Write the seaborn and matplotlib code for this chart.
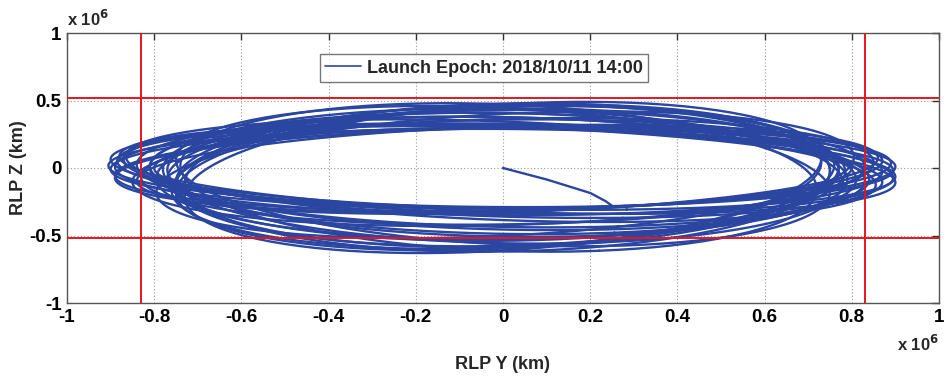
import numpy as np
import pandas as pd
import matplotlib
matplotlib.use("Agg")
import matplotlib.pyplot as plt
import seaborn as sns

# Transfer arc from launch to orbit insertion (units of 1e6 km)
transfer_y = [0.00, 0.10, 0.20, 0.235, 0.25]
transfer_z = [0.00, -0.085, -0.185, -0.245, -0.28]

# Per-revolution geometry of the libration orbit (units of 1e6 km)
loop_amp_y = [0.80, 0.85, 0.89, 0.90, 0.87, 0.82, 0.77, 0.74, 0.73, 0.76,
              0.81, 0.86, 0.89, 0.90, 0.88, 0.83, 0.78, 0.75, 0.73, 0.75,
              0.80, 0.85, 0.88, 0.90, 0.89, 0.84, 0.79, 0.76, 0.74, 0.78]
loop_amp_z = [0.30, 0.33, 0.31, 0.29, 0.35, 0.42, 0.49, 0.54, 0.56, 0.52,
              0.45, 0.38, 0.33, 0.30, 0.32, 0.39, 0.46, 0.52, 0.55, 0.53,
              0.47, 0.40, 0.34, 0.31, 0.33, 0.41, 0.48, 0.53, 0.55, 0.50]
loop_ctr_z = [0.00, -0.01, -0.01, 0.00, -0.02, -0.04, -0.05, -0.07, -0.07, -0.06,
              -0.04, -0.02, -0.01, 0.00, -0.01, -0.03, -0.05, -0.06, -0.07, -0.06,
              -0.05, -0.03, -0.01, 0.00, -0.01, -0.03, -0.05, -0.07, -0.07, -0.06]
loop_ctr_y = [0.00, 0.01, 0.00, -0.005, 0.00, 0.01, 0.00, -0.01, 0.00, 0.01,
              0.00, -0.005, 0.005, 0.00, -0.01, 0.00, 0.01, 0.00, -0.01, 0.00,
              0.005, 0.00, -0.01, 0.00, 0.01, 0.00, -0.005, 0.00, 0.01, 0.00]
loop_tilt = [0.00, 0.26, 0.15, -0.06, -0.24, -0.13, 0.06, 0.21, 0.26, 0.13,
             -0.10, -0.28, -0.19, 0.03, 0.20, 0.10, -0.08, -0.23, -0.16, 0.08,
             0.28, 0.18, -0.05, -0.21, -0.30, -0.13, 0.05, 0.18, 0.08, -0.10]
start_phase = -1.25

# Reference boundaries (units of 1e6 km)
bound_y = [-0.83, 0.83]
bound_z = [-0.52, 0.52]

x_ticks = [-1, -0.8, -0.6, -0.4, -0.2, 0, 0.2, 0.4, 0.6, 0.8, 1]
x_tick_labels = ["-1", "-0.8", "-0.6", "-0.4", "-0.2", "0", "0.2", "0.4", "0.6", "0.8", "1"]
y_ticks = [-1, -0.5, 0, 0.5, 1]
y_tick_labels = ["-1", "-0.5", "0", "0.5", "1"]
legend_label = "Launch Epoch: 2018/10/11 14:00"

# One row block per revolution; the transfer arc is segment 0
rows = []
for i, (yy, zz) in enumerate(zip(transfer_y, transfer_z)):
    rows.append((0, i, yy, zz))
for k, (ay, az, cz, cy, ph) in enumerate(zip(loop_amp_y, loop_amp_z, loop_ctr_z,
                                              loop_ctr_y, loop_tilt), start=1):
    th = np.linspace(start_phase, start_phase + 2 * np.pi, 200)
    for i, t in enumerate(th):
        rows.append((k, i, cy + ay * np.cos(t), cz + az * np.sin(t + ph)))
traj = pd.DataFrame(rows, columns=["rev", "step", "y", "z"])

sns.set_style("white")
plt.rcParams["font.family"] = ["Liberation Sans", "DejaVu Sans"]
plt.rcParams["font.weight"] = "bold"

fig = plt.figure(figsize=(9.52, 3.77), dpi=100)
ax = fig.add_axes([67 / 952, 1 - 303 / 377, 872 / 952, 270 / 377])

blue = "#2a46a1"
sns.lineplot(data=traj, x="y", y="z", units="rev", sort=False, estimator=None,
             color=blue, linewidth=1.7, ax=ax, legend=False)
ax.plot([], [], color=blue, linewidth=1.2, label=legend_label)

for v in bound_y:
    ax.axvline(v, color="#e8141c", linewidth=1.4, zorder=3)
for v in bound_z:
    ax.axhline(v, color="#e8141c", linewidth=1.4, zorder=3)

ax.set_xlim(-1, 1)
ax.set_ylim(-1, 1)
ax.set_xticks(x_ticks)
ax.set_xticklabels(x_tick_labels)
ax.set_yticks(y_ticks)
ax.set_yticklabels(y_tick_labels)
ax.grid(True, linestyle=(0, (1, 2)), color="#9a9a9a", linewidth=0.8)
ax.tick_params(direction="in", length=5, width=1, top=True, right=True,
               labelsize=13.5, pad=4, colors="#333333", labelcolor="black")
for lab in ax.get_xticklabels() + ax.get_yticklabels():
    lab.set_fontweight("bold")
for sp in ax.spines.values():
    sp.set_color("#555555")
    sp.set_linewidth(1.0)

ax.set_xlabel("RLP Y (km)", fontsize=13, fontweight="bold")
ax.set_ylabel("RLP Z (km)", fontsize=13, fontweight="bold")
ax.xaxis.set_label_coords(0.5, -0.195)
ax.yaxis.set_label_coords(-0.046, 0.5)

ax.text(0.0, 1.015, r"x 10$^{6}$", transform=ax.transAxes, fontsize=12,
        fontweight="bold", ha="left", va="bottom")
ax.text(1.0, -0.115, r"x 10$^{6}$", transform=ax.transAxes, fontsize=12,
        fontweight="bold", ha="right", va="top")

leg = ax.legend(loc="center", bbox_to_anchor=(0.478, 0.870), fontsize=13,
                frameon=True, fancybox=False, handlelength=2.0, handletextpad=0.3,
                borderpad=0.3, borderaxespad=0)
leg.get_frame().set_edgecolor("#555555")
leg.get_frame().set_linewidth(1.0)
for t in leg.get_texts():
    t.set_fontweight("bold")

fig.savefig("out.png", dpi=100)
